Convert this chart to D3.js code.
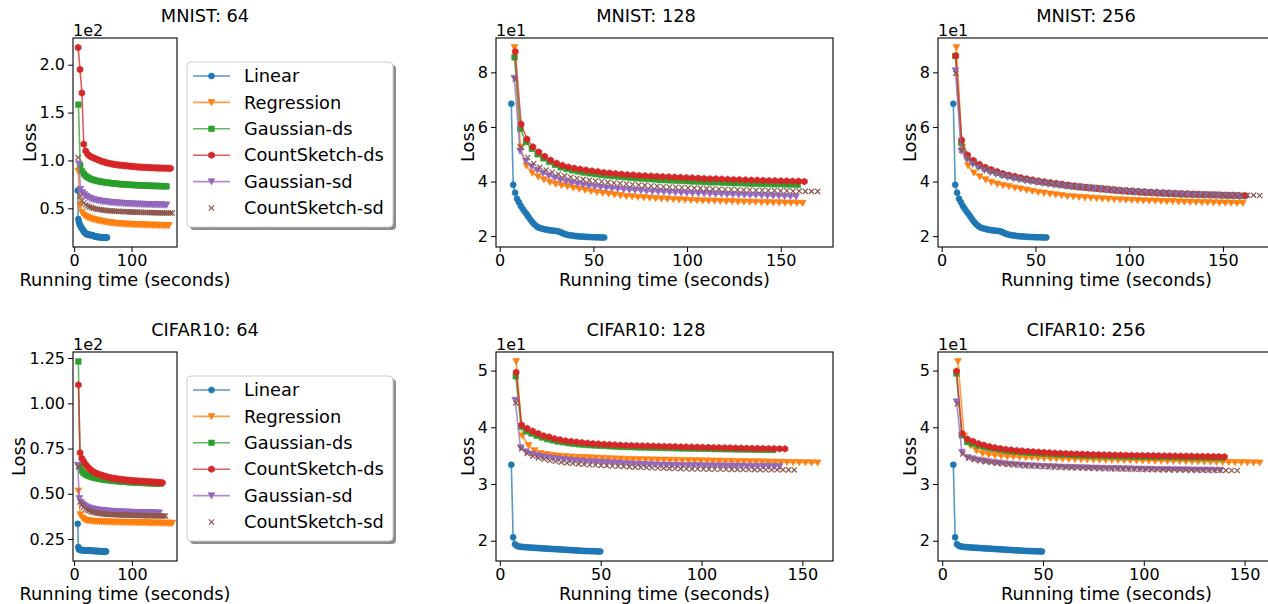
<!DOCTYPE html>
<html>
<head>
<meta charset="utf-8">
<script src="https://cdn.jsdelivr.net/npm/d3@7"></script>
<style>
  body { margin: 0; background: #fff; }
  svg { display: block; font-family: "DejaVu Sans", sans-serif; }
</style>
</head>
<body>
<svg id="chart" width="1268" height="604"></svg>
<script>
// ---- methods ----
const methodNames = ["Linear", "Regression", "Gaussian-ds", "CountSketch-ds", "Gaussian-sd", "CountSketch-sd"];
const methodColors = ["#1f77b4", "#ff7f0e", "#2ca02c", "#d62728", "#9467bd", "#8c564b"];
const methodMarkers = ["o", "v", "s", "h", "v", "x"];
const methodLines = [true, true, true, true, true, false];

// ---- panels ----
const panelTitles = ["MNIST: 64", "MNIST: 128", "MNIST: 256", "CIFAR10: 64", "CIFAR10: 128", "CIFAR10: 256"];
const xTickValues = [[0, 100], [0, 50, 100, 150], [0, 50, 100, 150], [0, 100], [0, 50, 100, 150], [0, 50, 100, 150]];
const yTickValues = [[50, 100, 150, 200], [20, 40, 60, 80], [20, 40, 60, 80], [25, 50, 75, 100, 125], [20, 30, 40, 50], [20, 30, 40, 50]];
const yTickLabels = [["0.5", "1.0", "1.5", "2.0"], ["2", "4", "6", "8"], ["2", "4", "6", "8"],
                     ["0.25", "0.50", "0.75", "1.00", "1.25"], ["2", "3", "4", "5"], ["2", "3", "4", "5"]];
const yOffsetLabels = ["1e2", "1e1", "1e1", "1e2", "1e1", "1e1"];

// ---- loss per epoch (50 epochs) ----
const mnistLinear = [68.5,38.8,35.9,33.7,32.4,31.0,30.0,29.0,28.1,27.1,26.1,25.2,24.4,23.8,23.3,23.0,22.8,22.6,22.45,22.3,22.2,22.1,22.0,21.95,21.85,21.7,21.4,21.1,20.8,20.6,20.4,20.3,20.2,20.1,20.0,19.95,19.9,19.85,19.8,19.75,19.7,19.68,19.65,19.62,19.6,19.58,19.56,19.54,19.52,19.5];
const mnistRegression = [89.1,52.7,45.8,43.2,41.8,40.7,39.8,39.1,38.6,38.2,37.7,37.3,36.9,36.5,36.1,35.8,35.5,35.2,34.9,34.6,34.5,34.3,34.15,34.0,33.85,33.7,33.6,33.5,33.4,33.3,33.2,33.1,33.0,32.95,32.9,32.8,32.75,32.7,32.6,32.55,32.5,32.45,32.4,32.35,32.3,32.25,32.2,32.15,32.1,32.05];
const cifarLinear = [33.4,20.6,19.4,19.1,19.0,18.95,18.9,18.88,18.85,18.83,18.8,18.78,18.76,18.74,18.72,18.7,18.68,18.66,18.64,18.62,18.6,18.58,18.56,18.54,18.52,18.5,18.48,18.46,18.44,18.42,18.4,18.38,18.36,18.34,18.32,18.3,18.28,18.26,18.24,18.22,18.2,18.19,18.18,18.17,18.16,18.15,18.14,18.13,18.12,18.1];
const cifarRegression = [51.6,38.5,36.8,35.9,35.4,35.2,35.05,34.95,34.85,34.8,34.75,34.7,34.65,34.6,34.55,34.5,34.45,34.42,34.39,34.36,34.33,34.3,34.28,34.26,34.24,34.22,34.2,34.18,34.16,34.14,34.12,34.1,34.08,34.06,34.04,34.02,34.0,33.98,33.96,33.94,33.92,33.9,33.88,33.86,33.84,33.82,33.8,33.78,33.76,33.74];

const mnist64GaussDs = [158.3,95,89,86,84,82.6,81.5,80.6,79.9,79.3,78.8,78.4,78.0,77.7,77.4,77.1,76.8,76.6,76.3,76.1,75.9,75.7,75.5,75.3,75.2,75.0,74.9,74.7,74.6,74.5,74.4,74.3,74.2,74.1,74.0,73.9,73.8,73.75,73.7,73.6,73.55,73.5,73.4,73.35,73.3,73.2,73.15,73.1,73.0,72.9];
const mnist64CountDs = [218,195,170.5,117,110,106.8,104.8,103.6,102.8,102,101.1,100.3,99.5,98.8,98.2,97.6,97.1,96.7,96.3,95.9,95.6,95.3,95.1,94.9,94.7,94.5,94.3,94.1,93.9,93.7,93.5,93.3,93.1,93.0,92.9,92.8,92.7,92.6,92.5,92.4,92.3,92.2,92.15,92.1,92.0,91.95,91.9,91.85,91.8,91.7];
const mnist64GaussSd = [96.6,70,66.5,64.5,63,61.8,60.8,60,59.4,58.9,58.5,58.1,57.8,57.5,57.2,56.9,56.7,56.5,56.3,56.1,55.9,55.8,55.6,55.5,55.4,55.2,55.1,55.0,54.9,54.8,54.7,54.6,54.5,54.45,54.4,54.3,54.25,54.2,54.1,54.05,54.0,53.95,53.9,53.85,53.8,53.75,53.7,53.65,53.6,53.5];
const mnist64CountSd = [103,63,58,55.5,53.8,52.5,51.5,50.7,50.0,49.5,49.1,48.7,48.4,48.1,47.9,47.7,47.5,47.3,47.2,47.0,46.9,46.8,46.7,46.6,46.5,46.4,46.3,46.2,46.1,46.05,46.0,45.9,45.85,45.8,45.7,45.65,45.6,45.55,45.5,45.45,45.4,45.35,45.3,45.25,45.2,45.15,45.1,45.1,45.05,45.0];

const mnist128GaussDs = [85.5,59.3,54.5,52.0,50.0,48.5,47.2,46.1,45.2,44.6,44.1,43.7,43.3,43.0,42.7,42.4,42.2,42.0,41.8,41.6,41.4,41.2,41.1,40.9,40.8,40.6,40.5,40.4,40.3,40.2,40.1,40.0,39.9,39.8,39.7,39.7,39.6,39.5,39.4,39.4,39.3,39.2,39.2,39.1,39.1,39.0,39.0,38.9,38.9,38.8];
const mnist128CountDs = [87.6,61.0,55.5,52.7,50.8,49.2,47.8,46.7,45.9,45.3,44.9,44.5,44.2,43.9,43.6,43.3,43.1,42.9,42.7,42.5,42.4,42.2,42.1,42.0,41.9,41.8,41.7,41.6,41.5,41.4,41.3,41.2,41.1,41.0,41.0,40.9,40.8,40.7,40.7,40.6,40.5,40.5,40.4,40.3,40.3,40.2,40.2,40.1,40.1,40.0];
const mnist128GaussSd = [77.9,51.2,47.5,45.5,44.2,43.1,42.2,41.4,40.7,40.1,39.6,39.2,38.8,38.5,38.2,38.0,37.7,37.5,37.3,37.1,37.0,36.8,36.7,36.5,36.4,36.3,36.2,36.1,36.0,35.9,35.8,35.7,35.7,35.6,35.5,35.4,35.4,35.3,35.2,35.2,35.1,35.0,35.0,34.9,34.8,34.8,34.7,34.6,34.6,34.5];
const mnist128CountSd = [77.5,52.5,48.8,46.6,45.2,44.2,43.4,42.7,42.1,41.6,41.2,40.8,40.5,40.2,40.0,39.7,39.5,39.3,39.1,38.9,38.7,38.6,38.4,38.3,38.1,38.0,37.9,37.8,37.7,37.6,37.5,37.4,37.3,37.2,37.1,37.1,37.0,36.9,36.9,36.8,36.8,36.7,36.7,36.6,36.6,36.5,36.5,36.4,36.4,36.4];

const mnist256GaussDs = [86.0,54.2,49.2,47.2,45.8,44.8,44.0,43.3,42.6,42.1,41.6,41.2,40.8,40.4,40.0,39.7,39.4,39.1,38.8,38.5,38.2,38.0,37.8,37.6,37.4,37.2,37.0,36.8,36.6,36.5,36.3,36.2,36.0,35.9,35.8,35.7,35.6,35.5,35.4,35.3,35.3,35.2,35.1,35.1,35.0,35.0,34.9,34.8,34.8,34.7];
const mnist256CountDs = [86.1,55.2,49.7,47.7,46.3,45.2,44.4,43.6,42.9,42.3,41.9,41.4,41.0,40.6,40.2,39.9,39.6,39.3,39.0,38.7,38.4,38.1,37.9,37.7,37.5,37.3,37.1,36.9,36.7,36.5,36.4,36.2,36.1,36.0,35.9,35.8,35.7,35.6,35.5,35.4,35.3,35.3,35.2,35.1,35.1,35.0,34.9,34.9,34.8,34.8];
const mnist256GaussSd = [80.6,51.2,48.2,46.4,45.2,44.2,43.4,42.7,42.1,41.6,41.1,40.7,40.3,40.0,39.7,39.4,39.1,38.8,38.6,38.3,38.1,37.9,37.7,37.5,37.3,37.1,36.9,36.7,36.6,36.4,36.3,36.1,36.0,35.9,35.8,35.7,35.6,35.5,35.4,35.3,35.2,35.2,35.1,35.0,35.0,34.9,34.8,34.8,34.7,34.6];
const mnist256CountSd = [79.6,51.5,48.5,46.8,45.5,44.5,43.7,43.0,42.4,41.9,41.4,41.0,40.6,40.3,39.9,39.6,39.3,39.1,38.8,38.6,38.4,38.2,38.0,37.8,37.6,37.4,37.2,37.0,36.9,36.7,36.6,36.4,36.3,36.2,36.1,36.0,35.9,35.8,35.7,35.6,35.5,35.4,35.4,35.3,35.2,35.2,35.1,35.0,35.0,34.9];

const cifar64GaussDs = [123.1,65,62.8,61.6,60.9,60.4,60.0,59.6,59.3,59.0,58.8,58.6,58.4,58.2,58.05,57.9,57.75,57.6,57.5,57.4,57.3,57.2,57.1,57.0,56.92,56.84,56.76,56.68,56.6,56.53,56.47,56.41,56.35,56.3,56.25,56.2,56.15,56.1,56.05,56.0,55.96,55.92,55.88,55.84,55.8,55.77,55.74,55.71,55.68,55.65];
const cifar64CountDs = [110.2,72.7,69.6,68.0,66.5,65.3,64.3,63.4,62.6,62.0,61.5,61.1,60.7,60.4,60.1,59.8,59.5,59.25,59.0,58.8,58.6,58.45,58.3,58.15,58.0,57.88,57.77,57.66,57.56,57.47,57.38,57.3,57.22,57.14,57.07,57.0,56.93,56.87,56.81,56.75,56.69,56.63,56.57,56.51,56.45,56.39,56.33,56.27,56.2,56.1];
const cifar64GaussSd = [65.8,47.4,45.2,44.2,43.5,42.9,42.5,42.2,41.9,41.65,41.45,41.3,41.15,41.0,40.9,40.8,40.7,40.6,40.52,40.45,40.38,40.32,40.26,40.2,40.15,40.1,40.05,40.0,39.96,39.93,39.89,39.85,39.81,39.78,39.75,39.72,39.69,39.66,39.63,39.61,39.59,39.57,39.55,39.53,39.51,39.5,39.49,39.48,39.47,39.46];
const cifar64CountSd = [65,45.5,43.8,42.6,41.6,41.0,40.6,40.2,39.9,39.6,39.4,39.25,39.1,39.0,38.9,38.8,38.7,38.62,38.55,38.5,38.45,38.4,38.36,38.32,38.28,38.25,38.22,38.19,38.16,38.13,38.1,38.07,38.04,38.01,37.98,37.95,37.92,37.9,37.88,37.86,37.84,37.83,37.82,37.81,37.8,37.79,37.78,37.77,37.76,37.75];

const cifar128GaussDs = [49.0,40.1,39.3,38.9,38.5,38.2,37.9,37.7,37.5,37.35,37.2,37.1,37.0,36.9,36.85,36.8,36.75,36.7,36.65,36.6,36.55,36.52,36.5,36.47,36.44,36.42,36.4,36.37,36.35,36.33,36.31,36.29,36.27,36.25,36.23,36.21,36.2,36.18,36.16,36.15,36.13,36.12,36.1,36.09,36.08,36.06,36.05,36.04,36.02,36.0];
const cifar128CountDs = [49.7,40.4,39.8,39.3,38.9,38.5,38.3,38.0,37.8,37.6,37.5,37.4,37.3,37.2,37.1,37.05,37.0,36.95,36.9,36.85,36.8,36.78,36.75,36.72,36.7,36.68,36.65,36.62,36.6,36.58,36.55,36.53,36.5,36.48,36.46,36.44,36.42,36.4,36.38,36.36,36.34,36.32,36.3,36.28,36.27,36.25,36.24,36.22,36.21,36.2];
const cifar128GaussSd = [44.8,36.4,35.7,35.3,35.05,34.85,34.7,34.55,34.45,34.35,34.25,34.15,34.08,34.0,33.95,33.9,33.85,33.8,33.75,33.7,33.65,33.6,33.55,33.5,33.46,33.43,33.4,33.37,33.35,33.33,33.31,33.3,33.28,33.27,33.26,33.25,33.24,33.23,33.22,33.21,33.2,33.19,33.18,33.17,33.16,33.15,33.14,33.13,33.12,33.1];
const cifar128CountSd = [44.3,36.2,35.4,34.9,34.6,34.35,34.15,34.0,33.85,33.72,33.65,33.55,33.47,33.4,33.34,33.28,33.23,33.18,33.14,33.1,33.02,32.98,32.94,32.9,32.86,32.82,32.79,32.76,32.73,32.71,32.69,32.67,32.65,32.63,32.62,32.61,32.6,32.59,32.58,32.57,32.56,32.55,32.54,32.53,32.52,32.51,32.5,32.5,32.49,32.48];

const cifar256GaussDs = [49.5,38.6,37.4,37.1,36.8,36.55,36.35,36.2,36.05,35.9,35.8,35.7,35.62,35.55,35.48,35.42,35.36,35.3,35.25,35.2,35.16,35.12,35.08,35.05,35.02,34.99,34.96,34.94,34.92,34.9,34.88,34.86,34.84,34.82,34.81,34.8,34.78,34.77,34.76,34.74,34.73,34.72,34.7,34.69,34.68,34.66,34.65,34.64,34.62,34.6];
const cifar256CountDs = [49.9,38.9,37.9,37.5,37.1,36.85,36.6,36.4,36.25,36.1,36.0,35.9,35.82,35.75,35.68,35.62,35.56,35.5,35.45,35.4,35.36,35.32,35.28,35.25,35.22,35.19,35.16,35.14,35.12,35.1,35.08,35.06,35.04,35.02,35.01,35.0,34.98,34.97,34.96,34.94,34.93,34.92,34.9,34.89,34.88,34.86,34.85,34.84,34.82,34.8];
const cifar256GaussSd = [44.5,35.6,34.7,34.45,34.25,34.1,33.95,33.82,33.7,33.6,33.5,33.42,33.35,33.29,33.23,33.18,33.14,33.1,33.06,33.02,32.99,32.96,32.93,32.9,32.87,32.84,32.82,32.79,32.77,32.75,32.73,32.71,32.69,32.67,32.65,32.63,32.61,32.59,32.58,32.56,32.55,32.54,32.52,32.51,32.5,32.49,32.48,32.47,32.46,32.45];
const cifar256CountSd = [44.1,35.3,34.6,34.3,34.1,33.95,33.8,33.68,33.56,33.46,33.38,33.31,33.24,33.18,33.13,33.08,33.04,33.0,32.96,32.92,32.89,32.86,32.83,32.8,32.77,32.75,32.73,32.71,32.69,32.67,32.65,32.63,32.61,32.59,32.57,32.56,32.54,32.53,32.51,32.5,32.48,32.47,32.46,32.44,32.43,32.42,32.41,32.4,32.39,32.38];

const panelLosses = [
    [mnistLinear, mnistRegression, mnist64GaussDs, mnist64CountDs, mnist64GaussSd, mnist64CountSd],
    [mnistLinear, mnistRegression, mnist128GaussDs, mnist128CountDs, mnist128GaussSd, mnist128CountSd],
    [mnistLinear, mnistRegression, mnist256GaussDs, mnist256CountDs, mnist256GaussSd, mnist256CountSd],
    [cifarLinear, cifarRegression, cifar64GaussDs, cifar64CountDs, cifar64GaussSd, cifar64CountSd],
    [cifarLinear, cifarRegression, cifar128GaussDs, cifar128CountDs, cifar128GaussSd, cifar128CountSd],
    [cifarLinear, cifarRegression, cifar256GaussDs, cifar256CountDs, cifar256GaussSd, cifar256CountSd]
];

// running time (seconds) at the first and at the last epoch of each run
const panelTimes = [
    [[6.2, 57.3], [7.0, 165], [7.4, 161], [6.9, 168], [8.0, 161], [6.9, 171]],
    [[6.2, 55.8], [7.9, 161.7], [7.9, 159.1], [8.3, 162.6], [7.8, 158.2], [8.3, 169.7]],
    [[6.2, 55.8], [7.8, 160.6], [7.3, 160], [7.5, 162], [7.3, 159], [7.5, 169.6]],
    [[6.3, 55.4], [7.4, 169.8], [7.4, 150], [7.4, 152.7], [6.3, 147], [7.4, 158.3]],
    [[5.7, 49.8], [8.1, 157.6], [7.9, 135.5], [8.1, 141.4], [7.6, 138.7], [7.9, 146]],
    [[5.5, 49.5], [7.8, 157.5], [7.0, 139], [7.1, 140], [7.1, 138], [7.4, 146.4]]
];

// ---- drawing ----
const svg = d3.select("#chart");
svg.append("rect").attr("width", 1268).attr("height", 604).attr("fill", "#fff");

// axes boxes; tx = where the title is centred
const boxes = [
    {x: 73, y: 38, w: 104, h: 209, tx: 205}, {x: 496, y: 38, w: 337, h: 209, tx: 646}, {x: 938, y: 38, w: 337, h: 209, tx: 1086},
    {x: 73, y: 352, w: 104, h: 209, tx: 205}, {x: 496, y: 352, w: 337, h: 209, tx: 646}, {x: 938, y: 352, w: 337, h: 209, tx: 1086}
];

const markerPath = function (kind) {
    if (kind === "o") return d3.symbol(d3.symbolCircle, Math.PI * 3 * 3)();
    if (kind === "v") return "M-3.4,-2.9L3.4,-2.9L0,3.4Z";
    if (kind === "s") return "M-2.8,-2.8H2.8V2.8H-2.8Z";
    if (kind === "h") {
        let pts = d3.range(6).map(k => {
            let a = Math.PI / 2 + k * Math.PI / 3;
            return [3.4 * Math.cos(a), -3.4 * Math.sin(a)];
        });
        return "M" + pts.map(p => p.join(",")).join("L") + "Z";
    }
    return "M-2.6,-2.6L2.6,2.6M-2.6,2.6L2.6,-2.6";
}

const drawMarker = function (g, kind, color, x, y) {
    let m = g.append("path")
        .attr("d", markerPath(kind))
        .attr("transform", `translate(${x},${y})`);
    if (kind === "x") {
        m.attr("fill", "none").attr("stroke", color).attr("stroke-width", 1.2);
    } else {
        m.attr("fill", color).attr("stroke", color).attr("stroke-width", 0.6);
    }
}

const pad = ext => [ext[0] - 0.05 * (ext[1] - ext[0]), ext[1] + 0.05 * (ext[1] - ext[0])];

boxes.forEach((b, p) => {
    let series = panelLosses[p].map((losses, s) => {
        let [t0, t1] = panelTimes[p][s];
        return losses.map((v, i) => ({t: t0 + (t1 - t0) * i / (losses.length - 1), v: v}));
    });
    let all = series.flat();

    let x = d3.scaleLinear().domain(pad(d3.extent(all, d => d.t))).range([b.x, b.x + b.w]);
    let y = d3.scaleLinear().domain(pad(d3.extent(all, d => d.v))).range([b.y + b.h, b.y]);

    let g = svg.append("g");

    // lines + markers, in plotting order
    series.forEach((pts, s) => {
        if (methodLines[s]) {
            g.append("path")
                .datum(pts)
                .attr("fill", "none")
                .attr("stroke", methodColors[s])
                .attr("stroke-width", 1.6)
                .attr("stroke-opacity", 0.75)
                .attr("d", d3.line().x(d => x(d.t)).y(d => y(d.v)));
        }
        pts.forEach(d => drawMarker(g, methodMarkers[s], methodColors[s], x(d.t), y(d.v)));
    });

    // axes
    let xAxis = d3.axisBottom(x).tickValues(xTickValues[p]).tickSize(5).tickPadding(3).tickFormat(d3.format("d"));
    let yAxis = d3.axisLeft(y).tickValues(yTickValues[p]).tickSize(5).tickPadding(3)
        .tickFormat((d, i) => yTickLabels[p][i]);

    let gx = svg.append("g").attr("transform", `translate(0,${b.y + b.h})`).call(xAxis);
    let gy = svg.append("g").attr("transform", `translate(${b.x},0)`).call(yAxis);
    [gx, gy].forEach(a => {
        a.select(".domain").remove();
        a.selectAll("line").attr("stroke", "#000").attr("stroke-width", 1);
        a.selectAll("text").attr("fill", "#000").style("font-size", "16px")
            .style("font-family", "DejaVu Sans, sans-serif");
    });

    // spines
    svg.append("rect")
        .attr("x", b.x).attr("y", b.y).attr("width", b.w).attr("height", b.h)
        .attr("fill", "none").attr("stroke", "#000").attr("stroke-width", 1.1);

    // offset text
    svg.append("text")
        .attr("x", b.x).attr("y", b.y - 2)
        .style("font-size", "16px")
        .text(yOffsetLabels[p]);

    // title
    svg.append("text")
        .attr("x", b.tx).attr("y", b.y - 16)
        .attr("text-anchor", "middle")
        .style("font-size", "17.8px")
        .text(panelTitles[p]);

    // x label
    svg.append("text")
        .attr("x", b.x + b.w / 2).attr("y", b.y + b.h + 39)
        .attr("text-anchor", "middle")
        .style("font-size", "17.8px")
        .text("Running time (seconds)");

    // y label
    let yLeft = gy.node().getBBox().x + b.x;
    svg.append("text")
        .attr("transform", `translate(${yLeft - 4},${b.y + b.h / 2}) rotate(-90)`)
        .attr("text-anchor", "middle")
        .style("font-size", "17.8px")
        .text("Loss");

    // legend beside the narrow panels
    if (b.w < 200) {
        let lx = 187, ly = b.y + 24, lw = 206, lh = 165;
        let lg = svg.append("g");
        lg.append("rect")
            .attr("x", lx + 3).attr("y", ly + 3).attr("width", lw).attr("height", lh).attr("rx", 4)
            .attr("fill", "#000").attr("fill-opacity", 0.45);
        lg.append("rect")
            .attr("x", lx).attr("y", ly).attr("width", lw).attr("height", lh).attr("rx", 4)
            .attr("fill", "#fff").attr("stroke", "#ccc").attr("stroke-width", 1);
        methodNames.forEach((name, s) => {
            let cy = ly + 14 + s * 26.4;
            if (methodLines[s]) {
                lg.append("line")
                    .attr("x1", lx + 6).attr("x2", lx + 43).attr("y1", cy).attr("y2", cy)
                    .attr("stroke", methodColors[s]).attr("stroke-width", 1.6).attr("stroke-opacity", 0.75);
            }
            drawMarker(lg, methodMarkers[s], methodColors[s], lx + 24.5, cy);
            lg.append("text")
                .attr("x", lx + 57).attr("y", cy).attr("dy", "0.35em")
                .style("font-size", "17.8px")
                .text(name);
        });
    }
});
</script>
</body>
</html>
